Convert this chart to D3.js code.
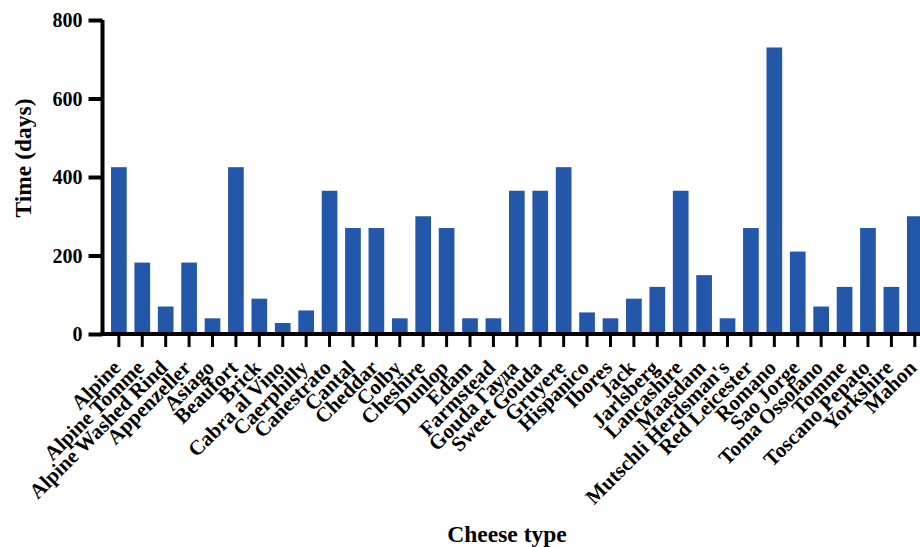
<!DOCTYPE html>
<html>
<head>
<meta charset="utf-8">
<script src="https://cdn.jsdelivr.net/npm/d3@7"></script>
<style>
  html, body { margin: 0; padding: 0; background: #fff; }
  svg { display: block; }
  text { font-family: "Liberation Serif", "Times New Roman", serif; font-weight: bold; fill: #000; }
</style>
</head>
<body>
<svg id="chart" width="920" height="547"></svg>
<script>
// Ripening time per cheese type
const cheeses = [
  "Alpine", "Alpine Tomme", "Alpine Washed Rind", "Appenzeller", "Asiago",
  "Beaufort", "Brick", "Cabra al Vino", "Caerphilly", "Canestrato",
  "Cantal", "Cheddar", "Colby", "Cheshire", "Dunlop", "Edam", "Farmstead",
  "Gouda Гауда", "Sweet Gouda", "Gruyere", "Hispanico", "Ibores", "Jack",
  "Jarlsberg", "Lancashire", "Maasdam", "Mutschli Herdsman's", "Red Leicester",
  "Romano", "Sao Jorge", "Toma Ossolano", "Tomme", "Toscano Pepato",
  "Yorkshire", "Mahon"
];
const days = [
  425, 182, 70, 182, 40,
  425, 90, 28, 60, 365,
  270, 270, 40, 300, 270, 40, 40,
  365, 365, 425, 55, 40, 90,
  120, 365, 150, 40, 270,
  730, 210, 70, 120, 270,
  120, 300
];
const yTicks = [0, 200, 400, 600, 800];

const svg = d3.select("#chart");
const blue = "#2357aa";

const x = d3.scaleBand()
  .domain(cheeses)
  .range([104, 104 + 23.39 * 35.3])
  .paddingInner(0.33)
  .paddingOuter(0.3);

const y = d3.scaleLinear().domain([0, 800]).range([334, 20]);

// bars
svg.append("g")
  .selectAll("rect")
  .data(cheeses)
  .join("rect")
  .attr("x", d => x(d))
  .attr("width", x.bandwidth())
  .attr("y", (d, i) => y(days[i]))
  .attr("height", (d, i) => y(0) - y(days[i]))
  .attr("fill", blue);

// y axis
const yAxis = svg.append("g")
  .attr("transform", "translate(102.5,0)")
  .call(d3.axisLeft(y).tickValues(yTicks).tickSize(14).tickPadding(6).tickFormat(d3.format("d")));
yAxis.select(".domain").attr("stroke", "#000").attr("stroke-width", 4)
  .attr("d", `M0,${y(800)}V${y(0) + 2}`);
yAxis.selectAll(".tick line").attr("stroke", "#000").attr("stroke-width", 4);
yAxis.selectAll(".tick text").style("font-size", "20px").attr("dy", "0.34em");

// x axis
const xAxis = svg.append("g")
  .attr("transform", `translate(0,${y(0)})`)
  .call(d3.axisBottom(x).tickSize(13).tickFormat(""));
xAxis.select(".domain").attr("stroke", "#000").attr("stroke-width", 4)
  .attr("d", "M100.5,0H920");
xAxis.selectAll(".tick line").attr("stroke", "#000").attr("stroke-width", 3);

// rotated category labels
svg.append("g")
  .selectAll("text")
  .data(cheeses)
  .join("text")
  .attr("transform", d => `translate(${x(d) + x.bandwidth() / 2 + 3},369) rotate(-45)`)
  .attr("text-anchor", "end")
  .style("font-size", "21px")
  .text(d => d);

// axis titles
svg.append("text")
  .attr("transform", "translate(31,158) rotate(-90)")
  .attr("text-anchor", "middle")
  .style("font-size", "23.5px")
  .text("Time (days)");

svg.append("text")
  .attr("x", 507)
  .attr("y", 542)
  .attr("text-anchor", "middle")
  .style("font-size", "23.5px")
  .text("Cheese type");
</script>
</body>
</html>
